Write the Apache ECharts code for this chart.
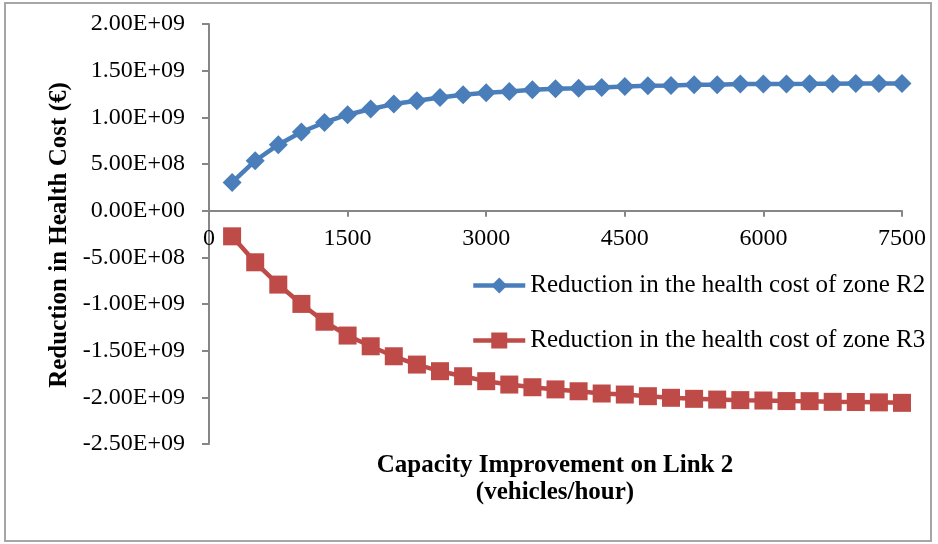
<!DOCTYPE html>
<html>
<head>
<meta charset="utf-8">
<script src="https://cdn.jsdelivr.net/npm/echarts@6/dist/echarts.min.js"></script>
<style>html,body{margin:0;padding:0;background:#fff}#c{width:938px;height:544px}</style>
</head>
<body>
<div id="c"></div>
<script>
var capacity = [250,500,750,1000,1250,1500,1750,2000,2250,2500,2750,3000,3250,3500,3750,4000,4250,4500,4750,5000,5250,5500,5750,6000,6250,6500,6750,7000,7250,7500];
var zoneR2 = [3.03e8,5.35e8,7.07e8,8.43e8,9.45e8,1.028e9,1.089e9,1.142e9,1.178e9,1.213e9,1.242e9,1.263e9,1.277e9,1.295e9,1.306e9,1.312e9,1.32e9,1.331e9,1.338e9,1.342e9,1.349e9,1.350e9,1.356e9,1.356e9,1.358e9,1.359e9,1.361e9,1.362e9,1.362e9,1.363e9];
var zoneR3 = [-2.75e8,-5.53e8,-7.92e8,-9.99e8,-1.19e9,-1.338e9,-1.453e9,-1.56e9,-1.649e9,-1.72e9,-1.774e9,-1.827e9,-1.863e9,-1.892e9,-1.915e9,-1.935e9,-1.959e9,-1.97e9,-1.988e9,-2.005e9,-2.016e9,-2.024e9,-2.03e9,-2.034e9,-2.04e9,-2.041e9,-2.048e9,-2.05e9,-2.054e9,-2.059e9];
var seriesNames = ["Reduction in the health cost of zone R2","Reduction in the health cost of zone R3"];
var xTitle = "Capacity Improvement on Link 2\n(vehicles/hour)";
var yTitle = "Reduction in Health Cost (\u20ac)";

function pairs(xs, ys){ return xs.map(function(x,i){ return [x, ys[i]]; }); }
function sci(v){
  if (v === 0) return "0.00E+00";
  var s = Math.abs(v).toExponential(2).toUpperCase();
  var parts = s.split("E");
  var e = parseInt(parts[1],10);
  var es = (e<0?"-":"+") + (Math.abs(e)<10?"0":"") + Math.abs(e);
  return (v<0?"-":"") + parts[0] + "E" + es;
}
var font = "'Liberation Serif','Times New Roman',serif";
var axisGray = "#868686";
var yMin = -2.5e9, yMax = 2.0e9;
var gridTop = 24, gridBottom = 100, H = 544;
var plotH = H - gridTop - gridBottom;
var zeroOffset = -plotH * (0 - yMin) / (yMax - yMin);
var chart = echarts.init(document.getElementById('c'), null, {renderer:'canvas'});
chart.setOption({
  animation:false,
  backgroundColor:'#fff',
  grid:{left:209,right:36,top:gridTop,bottom:gridBottom},
  legend:{
    orient:'vertical', left:471, top:273, padding:0, itemWidth:52, itemHeight:20, itemGap:30,
    lineStyle:{width:4.5},
    textStyle:{fontFamily:font,fontSize:25,color:'#000'},
    data:seriesNames
  },
  xAxis:{
    type:'value', min:0, max:7500, interval:1500, offset:zeroOffset,
    axisLine:{onZero:false,lineStyle:{color:axisGray,width:2}},
    axisTick:{show:true,length:6,lineStyle:{color:axisGray,width:2}},
    axisLabel:{fontFamily:font,fontSize:24,color:'#000',margin:16,formatter:function(v){return String(v);}},
    splitLine:{show:false}
  },
  yAxis:{
    type:'value', min:yMin, max:yMax, interval:5e8,
    axisLine:{show:true,lineStyle:{color:axisGray,width:2}},
    axisTick:{show:true,length:7,lineStyle:{color:axisGray,width:2}},
    axisLabel:{fontFamily:font,fontSize:24,color:'#000',margin:24,formatter:sci},
    splitLine:{show:false}
  },
  graphic:[
    {type:'rect',shape:{x:5,y:3,width:926,height:538},style:{fill:'none',stroke:'#a6a6a6',lineWidth:2},silent:true},
    {type:'text',x:555,y:479,style:{text:xTitle,font:"bold 25px "+font,fill:'#000',align:'center',verticalAlign:'middle',lineHeight:27}},
    {type:'text',x:60,y:235,rotation:Math.PI/2,style:{text:yTitle,font:"bold 25px "+font,fill:'#000',align:'center',verticalAlign:'middle'}}
  ],
  series:[
    {name:seriesNames[0],type:'line',data:pairs(capacity,zoneR2),symbol:'diamond',symbolSize:19,
     itemStyle:{color:'#4a7ebb'},lineStyle:{color:'#4a7ebb',width:4.5}},
    {name:seriesNames[1],type:'line',data:pairs(capacity,zoneR3),symbol:'rect',symbolSize:18,
     itemStyle:{color:'#be4b48'},lineStyle:{color:'#be4b48',width:4.5}}
  ]
});
</script>
</body>
</html>
